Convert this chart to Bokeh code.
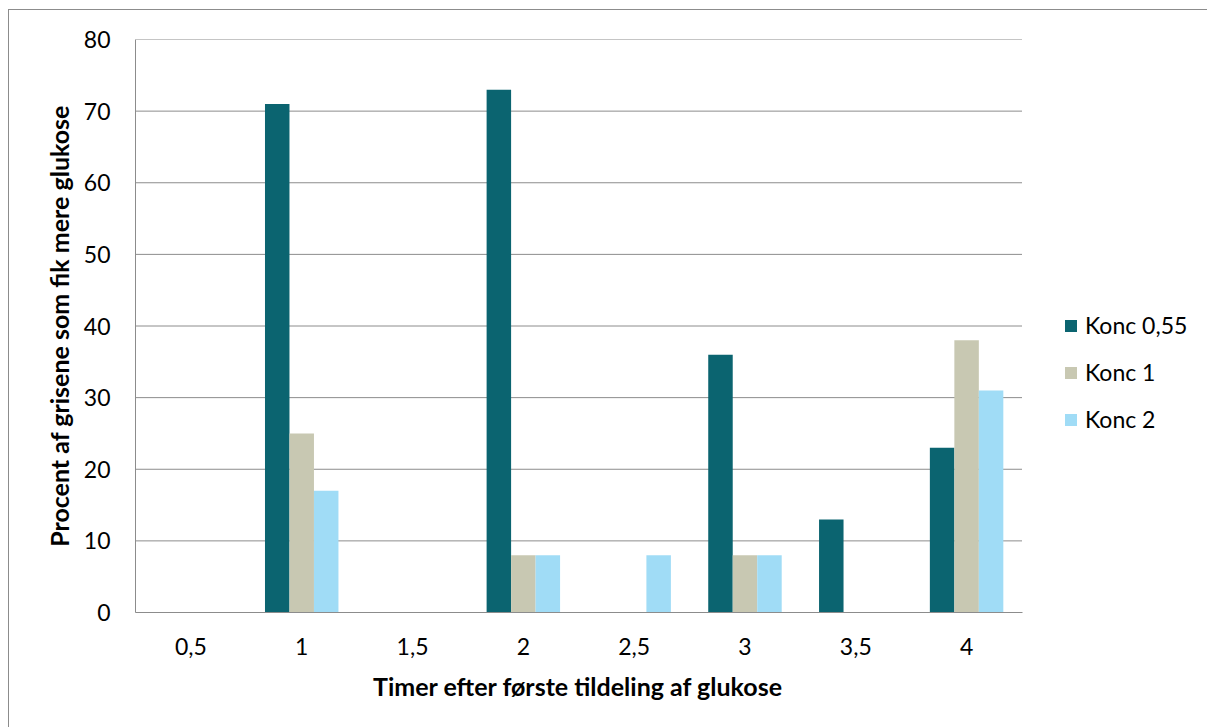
from bokeh.plotting import figure
from bokeh.models import Range1d, FixedTicker, Legend, LegendItem, Title
from bokeh.embed import file_html
from bokeh.resources import INLINE

# Hours after first glucose dose
hours = ["0,5", "1", "1,5", "2", "2,5", "3", "3,5", "4"]
# Percent of pigs that received more glucose, per concentration
konc_055 = [0, 71, 0, 73, 0, 36, 13, 23]
konc_1 = [0, 25, 0, 8, 0, 8, 0, 38]
konc_2 = [0, 17, 0, 8, 8, 8, 0, 31]
series_names = ["Konc 0,55", "Konc 1", "Konc 2"]
colors = ["#0B6470", "#C8C8B2", "#A0DCF6"]

y_ticks = [0, 10, 20, 30, 40, 50, 60, 70, 80]

x_title = "Timer efter første tildeling af glukose"
y_title = "Procent af grisene som fik mere glukose"

FONT = "Lato"
GRID = "#8C8C8C"

n = len(hours)
centers = [i + 0.5 for i in range(n)]

# The frame runs to the right edge so the legend can sit beside the bars;
# the category area occupies the first n units of the x range.
CAT_PX = 886.5      # pixel width of the category area
FRAME_PX = 1073.0   # pixel width of the whole frame
x_end = n * FRAME_PX / CAT_PX

p = figure(width=1199, height=718, x_range=Range1d(0, x_end),
           y_range=Range1d(0, 80), output_backend="svg", toolbar_location=None,
           min_border_left=126, min_border_right=0, min_border_top=29,
           min_border_bottom=116,
           styles={"margin-left": "8px", "margin-top": "9px",
                   "border-left": "1.5px solid #8C8C8C",
                   "border-top": "1.5px solid #8C8C8C"})
p.outline_line_color = None
p.background_fill_color = "white"
p.border_fill_color = "white"

# horizontal gridlines across the category area only
p.xgrid.grid_line_color = None
p.ygrid.grid_line_color = None
p.segment(x0=[0] * len(y_ticks), x1=[n] * len(y_ticks), y0=y_ticks, y1=y_ticks,
          line_color=GRID, line_width=1)

w = 0.221
r1 = p.vbar(x=[c - w for c in centers], top=konc_055, width=w,
            fill_color=colors[0], line_color=None)
r2 = p.vbar(x=centers, top=konc_1, width=w,
            fill_color=colors[1], line_color=None)
r3 = p.vbar(x=[c + w for c in centers], top=konc_2, width=w,
            fill_color=colors[2], line_color=None)

# axes
p.yaxis.ticker = FixedTicker(ticks=y_ticks)
p.xaxis.ticker = FixedTicker(ticks=centers)
p.xaxis.major_label_overrides = {c: h for c, h in zip(centers, hours)}
p.xaxis.bounds = (0, n)
for ax in (p.xaxis[0], p.yaxis[0]):
    ax.major_tick_line_color = None
    ax.minor_tick_line_color = None
    ax.major_tick_out = 0
    ax.major_tick_in = 0
    ax.minor_tick_out = 0
    ax.minor_tick_in = 0
    ax.major_label_text_font = FONT
    ax.major_label_text_font_size = "23px"
    ax.major_label_text_color = "#000000"
    ax.axis_label_text_font = FONT
    ax.axis_label_text_font_size = "25px"
    ax.axis_label_text_font_style = "bold"
    ax.axis_label_text_color = "#000000"
    ax.axis_line_color = GRID
    ax.axis_line_width = 1

p.yaxis.axis_label = y_title
p.yaxis.major_label_standoff = 25
p.yaxis.axis_label_standoff = 7
p.xaxis.major_label_standoff = 25

# x-axis title, centred under the category area rather than the whole frame
xt = Title(text=x_title, align="left", offset=237.5, standoff=22,
           text_font=FONT, text_font_size="25px", text_font_style="bold",
           text_color="#000000")
p.add_layout(xt, "below")

legend = Legend(items=[LegendItem(label=series_names[0], renderers=[r1]),
                       LegendItem(label=series_names[1], renderers=[r2]),
                       LegendItem(label=series_names[2], renderers=[r3])],
                location=(928, 179), orientation="vertical")
legend.glyph_width = 15
legend.glyph_height = 15
legend.label_height = 20
legend.spacing = 19
legend.padding = 0
legend.margin = 0
legend.label_standoff = 7
legend.label_text_font = FONT
legend.label_text_font_size = "23px"
legend.label_text_color = "#000000"
legend.border_line_color = None
legend.background_fill_alpha = 0
p.add_layout(legend, "center")

open("out.html", "w").write(file_html(p, INLINE))
